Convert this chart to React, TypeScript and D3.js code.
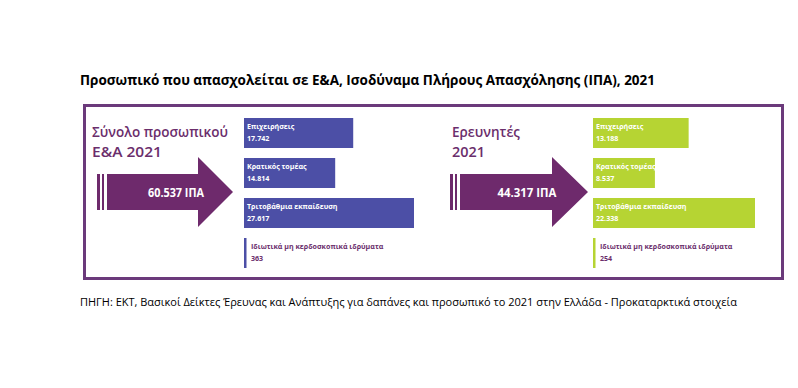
import * as React from 'react';
import * as d3 from 'd3';

const categories = [
  'Επιχειρήσεις',
  'Κρατικός τομέας',
  'Τριτοβάθμια εκπαίδευση',
  'Ιδιωτικά μη κερδοσκοπικά ιδρύματα',
];
const personnel = [17742, 14814, 27617, 363];
const researchers = [13188, 8537, 22338, 254];
const personnelTotal = 60537;
const researchersTotal = 44317;
const panelTitles = [['Σύνολο προσωπικού', 'Ε&Α 2021'], ['Ερευνητές', '2021']];

const title = 'Προσωπικό που απασχολείται σε Ε&Α, Ισοδύναμα Πλήρους Απασχόλησης (ΙΠΑ), 2021';
const source = 'ΠΗΓΗ: ΕΚΤ, Βασικοί Δείκτες Έρευνας και Ανάπτυξης για δαπάνες και προσωπικό το 2021 στην Ελλάδα - Προκαταρκτικά στοιχεία';

const font = '"Open Sans", "Noto Sans", sans-serif';
const frameColor = '#6b3a7b';
const arrowColor = '#6e2a6c';
const textPurple = '#6b2e6c';

const greek = d3.formatLocale({ decimal: ',', thousands: '.', grouping: [3], currency: ['', '€'] });
const fmt = greek.format(',d');

export default function App() {
  const width = 798;
  const height = 388;

  const y = d3.scaleBand<string>()
    .domain(categories)
    .range([118, 268])
    .paddingInner(0.25)
    .paddingOuter(0);

  const panels = [
    { titleX: 92, titles: panelTitles[0], titleW: [136, 70], values: personnel, total: personnelTotal,
      barX: 244, maxW: 170, color: '#4c4fa6', arrowX: 97, headX: 198, tipX: 233, labelX: 176, labelW: 56 },
    { titleX: 452, titles: panelTitles[1], titleW: [68, 33], values: researchers, total: researchersTotal,
      barX: 593, maxW: 162, color: '#b6d433', arrowX: 450, headX: 552, tipX: 588, labelX: 527, labelW: 59 },
  ];

  return (
    <div style={{ margin: '-8px' }}>
      <svg width={width} height={height} style={{ display: 'block', background: '#fff' }}>
        <text x={80} y={85} fontFamily={font} fontWeight={700} fontSize={13.6} fill="#000"
          textLength={575} lengthAdjust="spacingAndGlyphs">{title}</text>

        <rect x={84.5} y={105.5} width={698} height={173} fill="none" stroke={frameColor} strokeWidth={3} />

        {panels.map((p, pi) => {
          const x = d3.scaleLinear()
            .domain([0, d3.max(p.values) as number])
            .range([0, p.maxW]);
          const bodyTop = 174, bodyBot = 210, headTop = 157, headBot = 227, tipY = 192;
          const path = d3.path();
          path.moveTo(p.arrowX + 10, bodyTop);
          path.lineTo(p.headX, bodyTop);
          path.lineTo(p.headX, headTop);
          path.lineTo(p.tipX, tipY);
          path.lineTo(p.headX, headBot);
          path.lineTo(p.headX, bodyBot);
          path.lineTo(p.arrowX + 10, bodyBot);
          path.closePath();
          return (
            <g key={pi}>
              {p.titles.map((t, i) => (
                <text key={i} x={p.titleX} y={137 + i * 20} fontFamily={font} fontSize={15}
                  fontWeight={600} fill={textPurple} textLength={p.titleW[i]}
                  lengthAdjust="spacingAndGlyphs">{t}</text>
              ))}
              <rect x={p.arrowX} y={bodyTop} width={3} height={bodyBot - bodyTop} fill={arrowColor} />
              <rect x={p.arrowX + 5} y={bodyTop} width={2} height={bodyBot - bodyTop} fill={arrowColor} />
              <path d={path.toString()} fill={arrowColor} />
              <text x={p.labelX - p.labelW / 2} y={197} fontFamily={font} fontSize={12}
                fontWeight={700} fill="#fff" textLength={p.labelW}
                lengthAdjust="spacingAndGlyphs">{fmt(p.total) + ' ΙΠΑ'}</text>

              {categories.map((c, i) => {
                const w = Math.max(2.5, x(p.values[i]));
                const by = y(c) as number;
                const small = i === 3;
                const tx = small ? p.barX + 7 : p.barX + 3;
                return (
                  <g key={c}>
                    <rect x={p.barX} y={by} width={w} height={y.bandwidth()} fill={p.color} />
                    <text x={tx} y={by + 11} fontFamily={font} fontSize={7.1} fontWeight={700}
                      fill={small ? textPurple : '#fff'}>{c}</text>
                    <text x={tx} y={by + 23} fontFamily={font} fontSize={7.1} fontWeight={700}
                      fill={small ? textPurple : '#fff'}>{fmt(p.values[i])}</text>
                  </g>
                );
              })}
            </g>
          );
        })}

        <text x={80} y={306} fontFamily={font} fontSize={11} fill="#000"
          textLength={657} lengthAdjust="spacingAndGlyphs">{source}</text>
      </svg>
    </div>
  );
}
